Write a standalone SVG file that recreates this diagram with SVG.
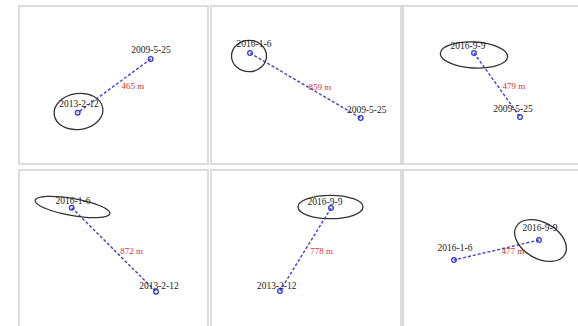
<svg xmlns="http://www.w3.org/2000/svg" width="578" height="326" viewBox="0 0 578 326">
<style>
.panel{fill:#ffffff;stroke:#dcdcdc;stroke-width:2}
.lbl{font-family:"Liberation Serif","DejaVu Serif",serif;font-size:9.5px;fill:#222;text-anchor:middle}
.dist{font-family:"Liberation Serif","DejaVu Serif",serif;font-size:9px;fill:#e03030;text-anchor:middle}
.pt{fill:none;stroke:#3333dd;stroke-width:1.3}
.ell{fill:none;stroke:#333;stroke-width:1.3}
.link{stroke:#4040d0;stroke-width:1.4;stroke-dasharray:3,2;fill:none}
</style>
<rect width="578" height="326" fill="#ffffff"/>
<g id="panels">
<rect class="panel" x="19" y="6" width="189" height="158"/>
<rect class="panel" x="211" y="6" width="190" height="158"/>
<rect class="panel" x="403" y="6" width="180" height="158"/>
<rect class="panel" x="19" y="170" width="189" height="162"/>
<rect class="panel" x="211" y="170" width="190" height="162"/>
<rect class="panel" x="403" y="170" width="180" height="162"/>
</g>
<g id="connectors">
<line class="link" x1="150.7" y1="59" x2="77.7" y2="112.7"/>
<line class="link" x1="250" y1="53" x2="360.7" y2="118"/>
<line class="link" x1="474" y1="53" x2="520" y2="117"/>
<line class="link" x1="71.7" y1="207.7" x2="156" y2="291.7"/>
<line class="link" x1="331" y1="208" x2="280" y2="291"/>
<line class="link" x1="539" y1="240" x2="454" y2="260"/>
</g>
<g id="panel1">
<ellipse class="ell" cx="78.5" cy="111.5" rx="24.5" ry="18" transform="rotate(-8 78.5 111.5)"/>
<circle class="pt" cx="150.7" cy="59" r="2.3"/>
<circle class="pt" cx="77.7" cy="112.7" r="2.3"/>
<text class="lbl" x="151" y="53">2009-5-25</text>
<text class="lbl" x="79" y="107">2013-2-12</text>
<text class="dist" x="133" y="89">465 m</text>
</g>
<g id="panel2">
<ellipse class="ell" cx="249" cy="56" rx="17.5" ry="15.7"/>
<circle class="pt" cx="250" cy="53" r="2.3"/>
<circle class="pt" cx="360.7" cy="118" r="2.3"/>
<text class="lbl" x="254" y="47">2016-1-6</text>
<text class="lbl" x="366.7" y="113">2009-5-25</text>
<text class="dist" x="320" y="90">859 m</text>
</g>
<g id="panel3">
<ellipse class="ell" cx="474" cy="55" rx="33.7" ry="13" transform="rotate(3 474 55)"/>
<circle class="pt" cx="474" cy="53" r="2.3"/>
<circle class="pt" cx="520" cy="117" r="2.3"/>
<text class="lbl" x="468" y="49">2016-9-9</text>
<text class="lbl" x="513" y="112">2009-5-25</text>
<text class="dist" x="514" y="89">479 m</text>
</g>
<g id="panel4">
<ellipse class="ell" cx="72.5" cy="207" rx="38" ry="8.5" transform="rotate(10 72.5 207)"/>
<circle class="pt" cx="71.7" cy="207.7" r="2.3"/>
<circle class="pt" cx="156" cy="291.7" r="2.3"/>
<text class="lbl" x="73" y="203.5">2016-1-6</text>
<text class="lbl" x="159" y="288.5">2013-2-12</text>
<text class="dist" x="131.7" y="253.5">872 m</text>
</g>
<g id="panel5">
<ellipse class="ell" cx="330.5" cy="207" rx="32.5" ry="11.7"/>
<circle class="pt" cx="331" cy="208" r="2.3"/>
<circle class="pt" cx="280" cy="291" r="2.3"/>
<text class="lbl" x="325" y="204.5">2016-9-9</text>
<text class="lbl" x="276.7" y="288.5">2013-2-12</text>
<text class="dist" x="321.7" y="253.5">778 m</text>
</g>
<g id="panel6">
<ellipse class="ell" cx="540.5" cy="240.5" rx="28" ry="18" transform="rotate(30 540.5 240.5)"/>
<circle class="pt" cx="539" cy="240" r="2.3"/>
<circle class="pt" cx="454" cy="260" r="2.3"/>
<text class="lbl" x="540" y="230.5">2016-9-9</text>
<text class="lbl" x="455" y="251">2016-1-6</text>
<text class="dist" x="513" y="253.5">477 m</text>
</g>
</svg>
